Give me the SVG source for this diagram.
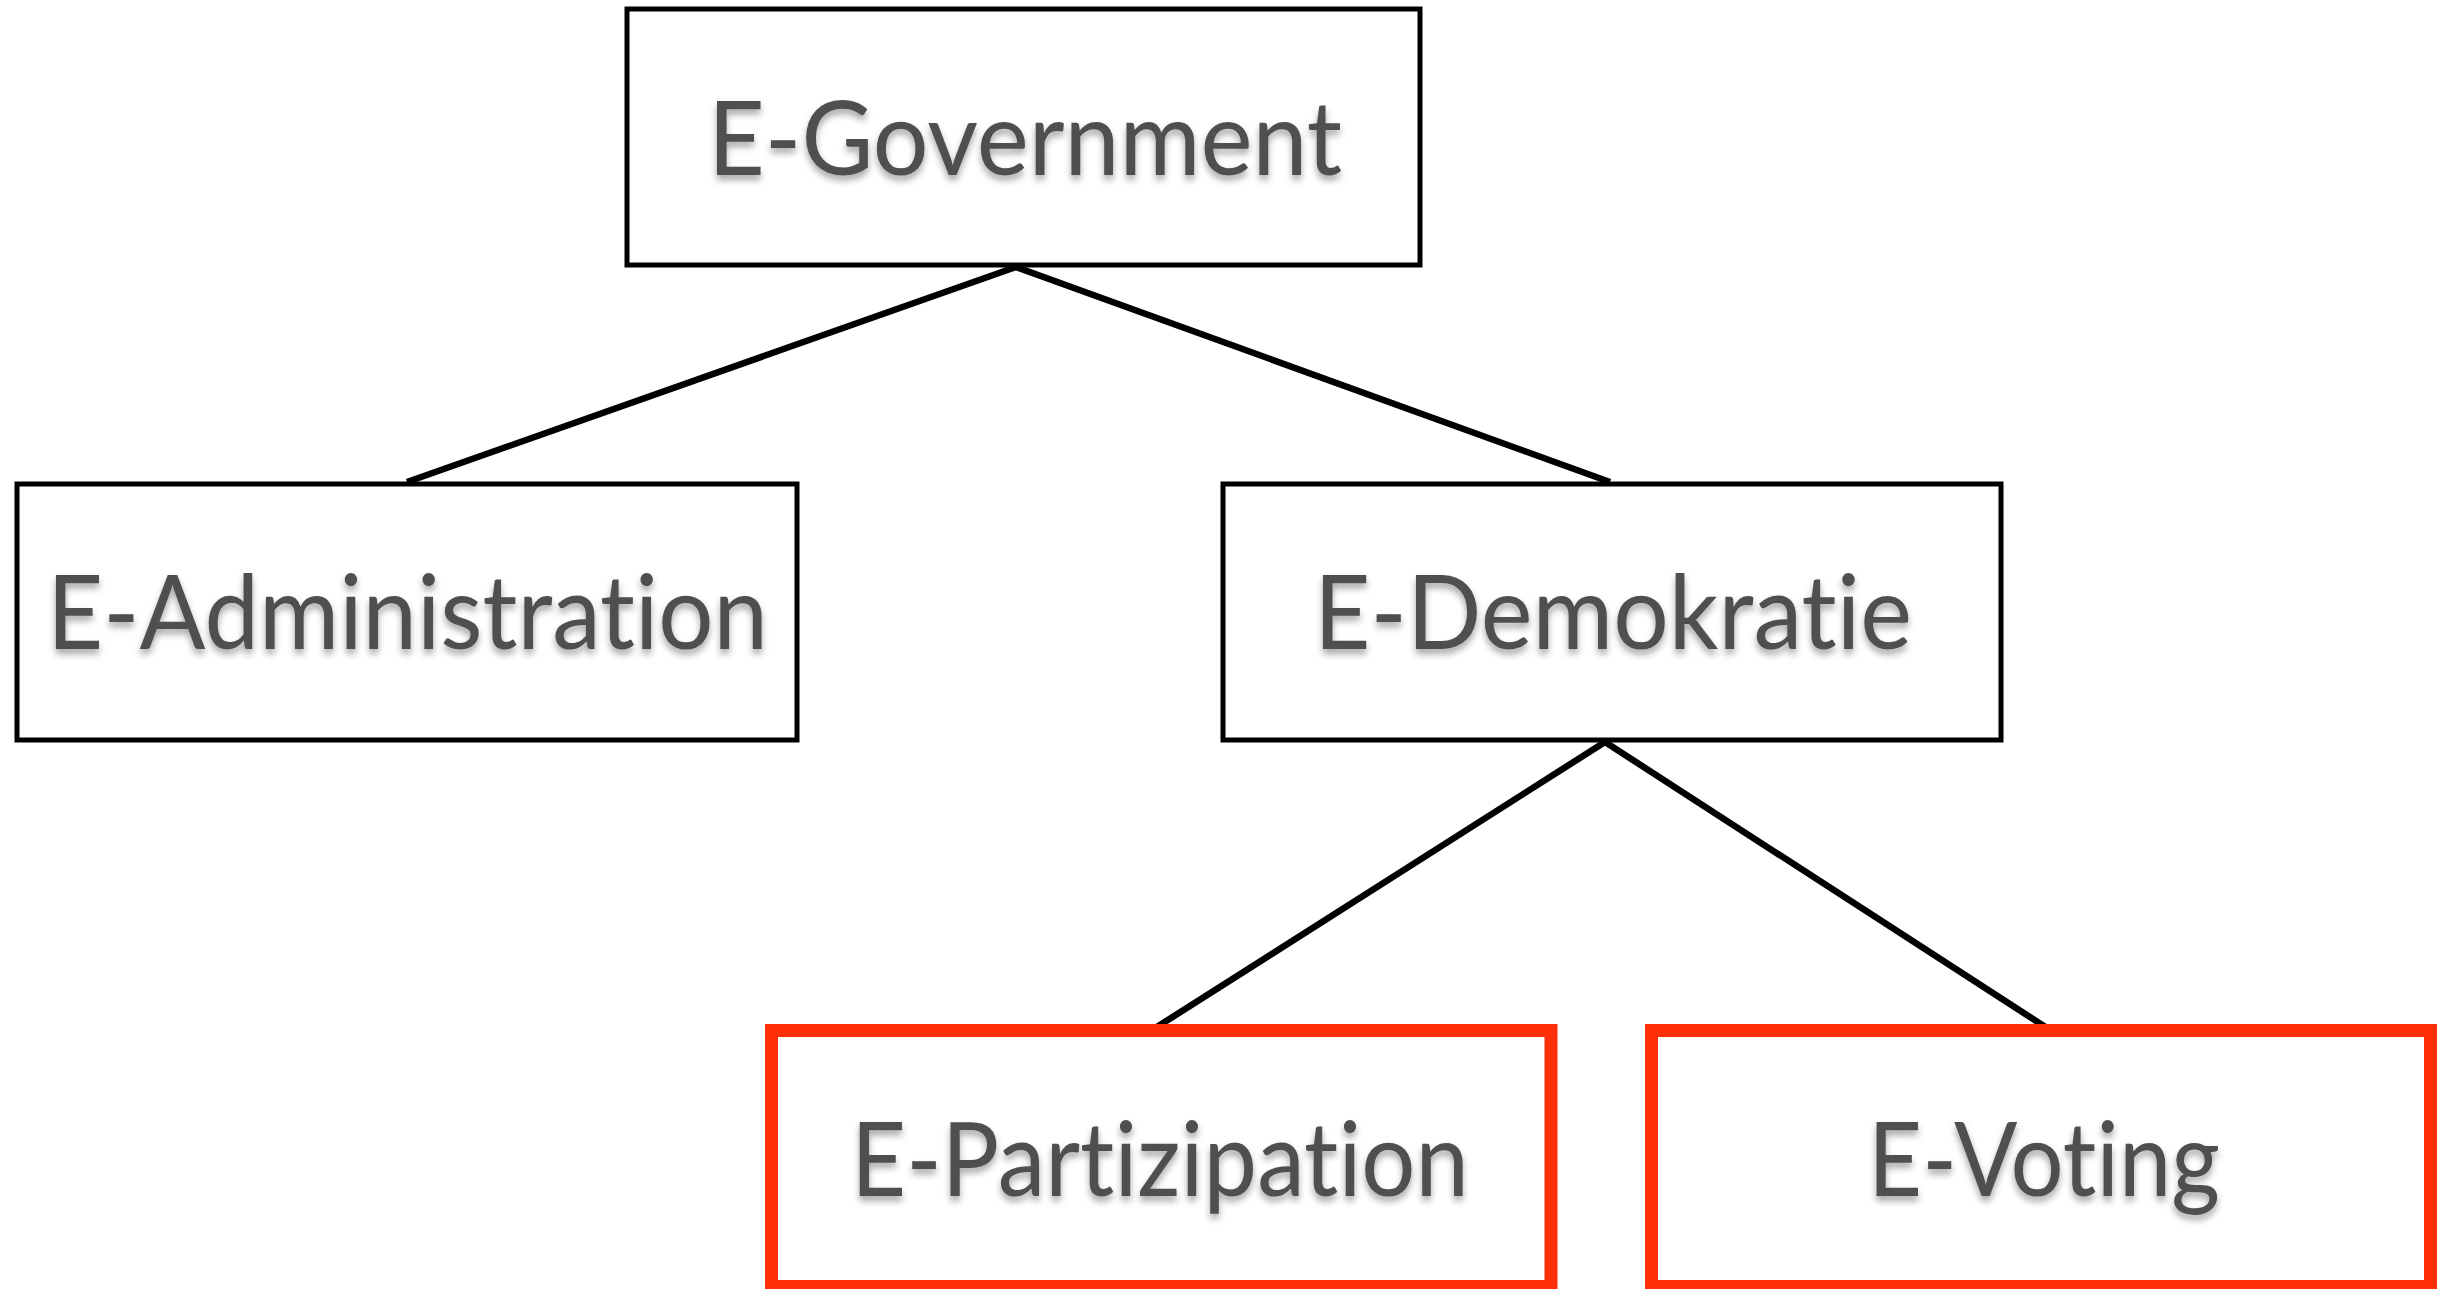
<svg xmlns="http://www.w3.org/2000/svg" width="2448" height="1289" viewBox="0 0 2448 1289">
<defs>
<filter id="sh" x="-10%" y="-30%" width="120%" height="160%">
<feDropShadow dx="0" dy="5" stdDeviation="3.5" flood-color="#000" flood-opacity="0.35"/>
</filter>
<style>
.box{fill:#fff;stroke:#000;stroke-width:5}
.hl{fill:#fff;stroke:#FF3008;stroke-width:13}
.lbl{font-family:Lato,"Open Sans","Liberation Sans",sans-serif;font-size:102px;font-variant-ligatures:none;font-feature-settings:"liga" 0;fill:#505050;text-anchor:middle;filter:url(#sh)}
.conn{stroke:#000;stroke-width:6.5;fill:none}
</style>
</defs>
<rect width="2448" height="1289" fill="#fff"/>
<g id="connectors">
<line class="conn" x1="1016" y1="267" x2="407" y2="482"/>
<line class="conn" x1="1016" y1="267" x2="1610" y2="482"/>
<line class="conn" x1="1605" y1="742" x2="1149" y2="1032"/>
<line class="conn" x1="1605" y1="742" x2="2050" y2="1030"/>
</g>
<g id="egovernment">
<rect class="box" x="627" y="9" width="793" height="256"/>
<text class="lbl" x="1025" y="175" textLength="634" lengthAdjust="spacingAndGlyphs">E-Government</text>
</g>
<g id="eadministration">
<rect class="box" x="17" y="484" width="780" height="256"/>
<text class="lbl" x="407.5" y="649" textLength="721" lengthAdjust="spacingAndGlyphs">E-Administration</text>
</g>
<g id="edemokratie">
<rect class="box" x="1223" y="484" width="778" height="256"/>
<text class="lbl" x="1613" y="649" textLength="598" lengthAdjust="spacingAndGlyphs">E-Demokratie</text>
</g>
<g id="epartizipation">
<rect class="hl" x="771.5" y="1030.5" width="779.5" height="256"/>
<text class="lbl" x="1160" y="1196" textLength="618" lengthAdjust="spacingAndGlyphs">E-Partizipation</text>
</g>
<g id="evoting">
<rect class="hl" x="1651.5" y="1030.5" width="779" height="256"/>
<text class="lbl" x="2044" y="1196" textLength="352" lengthAdjust="spacingAndGlyphs">E-Voting</text>
</g>
</svg>
